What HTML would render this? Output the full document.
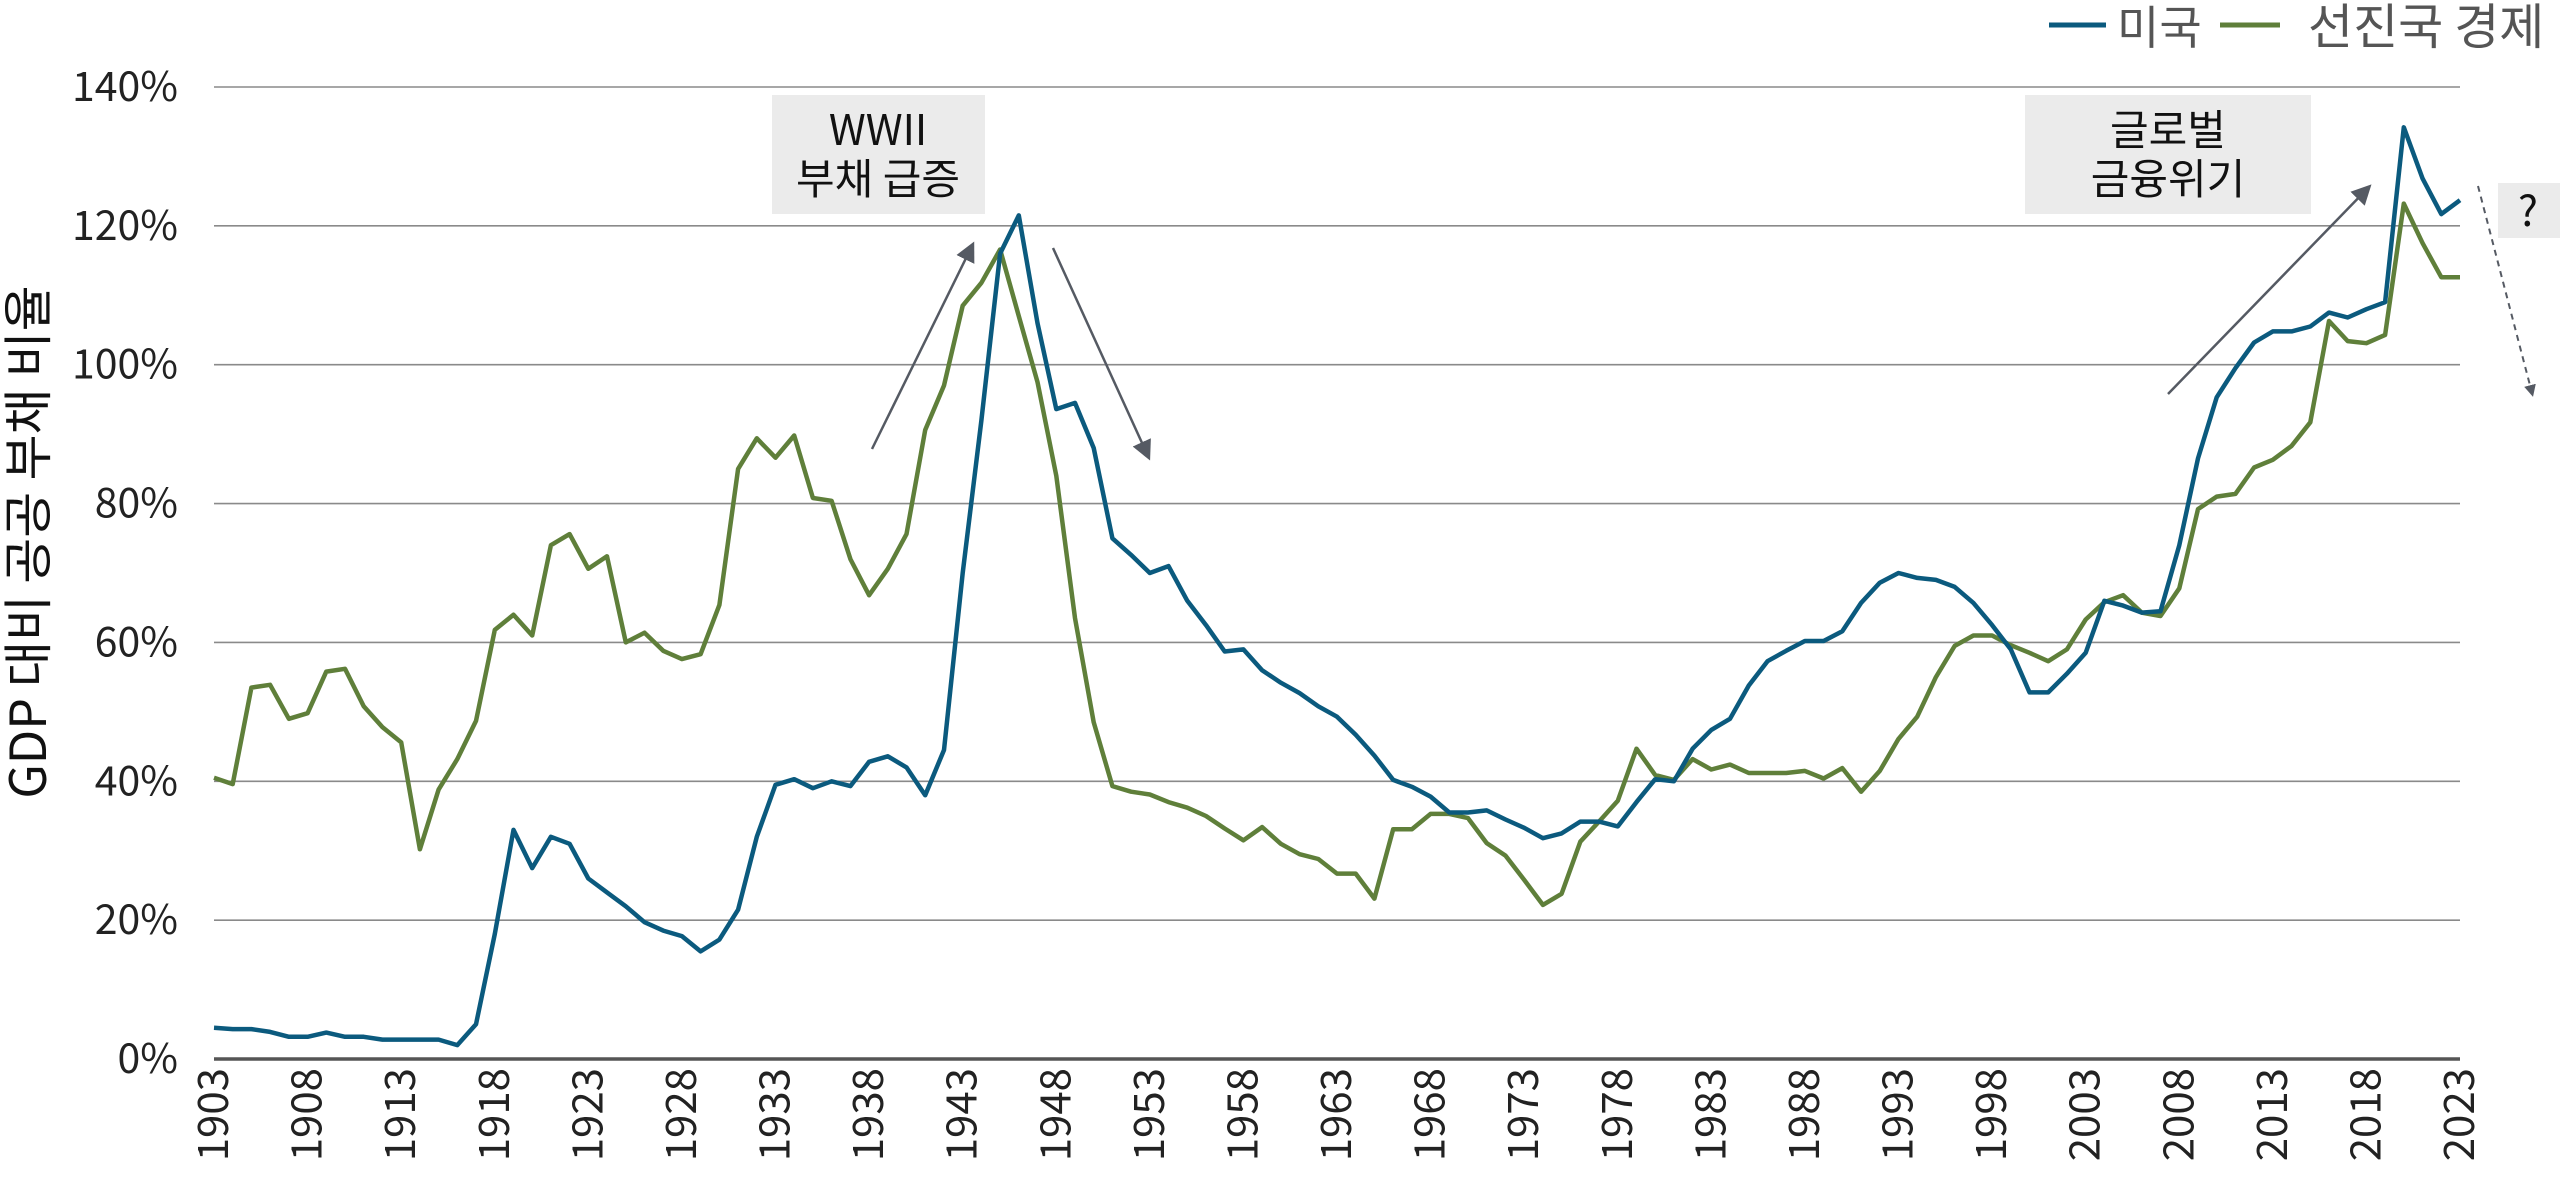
<!DOCTYPE html>
<html><head><meta charset="utf-8">
<style>
html,body{margin:0;padding:0;background:#fff;}
body{width:2560px;height:1186px;overflow:hidden;font-family:"Noto Sans CJK KR","Liberation Sans",sans-serif;}
svg text{font-family:"Noto Sans CJK KR","Liberation Sans",sans-serif;}
</style></head>
<body>
<svg id="chart" width="2560" height="1186" viewBox="0 0 2560 1186" xmlns="http://www.w3.org/2000/svg">
<defs>
<marker id="ah" markerWidth="8" markerHeight="8" refX="6" refY="4" orient="auto" markerUnits="strokeWidth"><path d="M0,0 L8,4 L0,8 z" fill="#555a63"/></marker>
<marker id="ah2" markerWidth="6" markerHeight="6" refX="4" refY="3" orient="auto" markerUnits="strokeWidth"><path d="M0,0 L6,3 L0,6 z" fill="#555a63"/></marker>
</defs>
<g id="grid"></g>
<g id="yticks"></g>
<g id="xticks"></g>
<g id="series"></g>
<text transform="translate(46,542) rotate(-90)" text-anchor="middle" font-size="50" fill="#111">GDP 대비 공공 부채 비율</text>

<g>
<line x1="2049" y1="25" x2="2106" y2="25" stroke="#0b5a7e" stroke-width="5"/>
<text x="2117" y="44" font-size="46" fill="#555">미국</text>
<line x1="2220" y1="25" x2="2280" y2="25" stroke="#5f7f3a" stroke-width="5"/>
<text x="2308" y="44" font-size="49" fill="#555">선진국 경제</text>
</g>

<g>
<rect x="772" y="95" width="213" height="119" fill="#ebebeb"/>
<text x="878" y="145" text-anchor="middle" font-size="42" fill="#111">WWII</text>
<text x="878" y="194" text-anchor="middle" font-size="42" fill="#111">부채 급증</text>
<line x1="872" y1="449" x2="972" y2="246" stroke="#555a63" stroke-width="2.5" marker-end="url(#ah)"/>
<line x1="1053" y1="248" x2="1148" y2="456" stroke="#555a63" stroke-width="2.5" marker-end="url(#ah)"/>
</g>
<g>
<rect x="2025" y="95" width="286" height="119" fill="#ebebeb"/>
<text x="2168" y="145" text-anchor="middle" font-size="42" fill="#111">글로벌</text>
<text x="2168" y="194" text-anchor="middle" font-size="42" fill="#111">금융위기</text>
<line x1="2168" y1="394" x2="2368" y2="188" stroke="#555a63" stroke-width="2.5" marker-end="url(#ah)"/>
</g>
<g>
<rect x="2498" y="183" width="62" height="55" fill="#ebebeb"/>
<text x="2528" y="226" text-anchor="middle" font-size="42" fill="#111">?</text>
<line x1="2478" y1="186" x2="2532" y2="393" stroke="#555a63" stroke-width="2" stroke-dasharray="6,5" marker-end="url(#ah2)"/>
</g>
</svg>
<script>
const years = [];
for (let yr = 1903; yr <= 2023; yr++) years.push(yr);
const yTicks = [0,20,40,60,80,100,120,140];
const xTickYears = [1903,1908,1913,1918,1923,1928,1933,1938,1943,1948,1953,1958,1963,1968,1973,1978,1983,1988,1993,1998,2003,2008,2013,2018,2023];
const usDebt = [4.5,4.3,4.3,3.9,3.2,3.2,3.8,3.2,3.2,2.8,2.8,2.8,2.8,2.0,5,18,33,27.5,32,31,26,24,22,19.7,18.5,17.7,15.5,17.2,21.5,32,39.5,40.3,39,40,39.3,42.8,43.6,42,38,44.5,70,92,116,121.5,106,93.6,94.5,88,75,72.6,70,71,66,62.5,58.7,59,56,54.2,52.7,50.8,49.3,46.7,43.7,40.2,39.2,37.8,35.5,35.5,35.8,34.5,33.3,31.8,32.5,34.2,34.2,33.5,37,40.3,40,44.7,47.4,49,53.8,57.3,58.8,60.2,60.2,61.6,65.7,68.6,70,69.3,69,68,65.7,62.5,59,52.8,52.8,55.5,58.5,66,65.3,64.3,64.5,74,86.5,95.3,99.5,103.2,104.8,104.8,105.5,107.5,106.8,108,109,134.2,126.8,121.7,123.7];
const advDebt = [40.5,39.6,53.5,53.9,49,49.8,55.8,56.2,50.8,47.8,45.6,30.2,38.8,43.2,48.7,61.8,64,61,74,75.6,70.6,72.4,60,61.4,58.8,57.6,58.3,65.4,85,89.4,86.6,89.8,80.8,80.4,72,66.8,70.6,75.6,90.6,97,108.5,111.8,116.6,107,97.5,84,63.5,48.5,39.3,38.5,38.1,37,36.2,35,33.2,31.5,33.4,31,29.5,28.8,26.7,26.7,23.1,33.1,33.1,35.3,35.3,34.7,31.1,29.3,25.8,22.2,23.8,31.3,34.2,37.2,44.7,40.9,40.2,43.2,41.7,42.4,41.2,41.2,41.2,41.5,40.4,41.9,38.5,41.5,46.1,49.3,55,59.5,61,61,59.6,58.5,57.3,59,63.3,65.8,66.8,64.3,63.8,67.8,79.2,81,81.4,85.2,86.3,88.3,91.7,106.3,103.4,103.1,104.3,123.2,117.5,112.6,112.6];

const NS = "http://www.w3.org/2000/svg";
const X0 = 214, X1 = 2460, Y0 = 1059, YTOP = 87;
function xs(yr){ return X0 + (yr - 1903) * (X1 - X0) / 120; }
function ys(v){ return Y0 - v * (Y0 - YTOP) / 140; }

const grid = document.getElementById('grid');
const yt = document.getElementById('yticks');
yTicks.forEach(t => {
  const l = document.createElementNS(NS,'line');
  l.setAttribute('x1', X0); l.setAttribute('x2', X1);
  l.setAttribute('y1', ys(t)); l.setAttribute('y2', ys(t));
  l.setAttribute('stroke', t === 0 ? '#555' : '#8a8a8a');
  l.setAttribute('stroke-width', t === 0 ? 3.5 : 1.6);
  
  
  grid.appendChild(l);
  const tx = document.createElementNS(NS,'text');
  tx.setAttribute('x', 178); tx.setAttribute('y', ys(t) + 14);
  tx.setAttribute('text-anchor', 'end'); tx.setAttribute('font-size', '41');
  tx.setAttribute('fill', '#222');
  tx.textContent = t + '%';
  
  
  yt.appendChild(tx);
});
const xt = document.getElementById('xticks');
xTickYears.forEach(yr => {
  const tx = document.createElementNS(NS,'text');
  const x = xs(yr) + 14, y = 1068;
  tx.setAttribute('transform', 'translate(' + x + ',' + y + ') rotate(-90)');
  tx.setAttribute('text-anchor', 'end'); tx.setAttribute('font-size', '42');
  tx.setAttribute('fill', '#222');
  tx.textContent = yr;
  
  
  xt.appendChild(tx);
});
const ser = document.getElementById('series');
function drawLine(vals, color, name){
  const pts = vals.map((v,i) => xs(years[i]).toFixed(1) + ',' + ys(v).toFixed(1)).join(' ');
  const p = document.createElementNS(NS,'polyline');
  p.setAttribute('points', pts);
  p.setAttribute('fill', 'none'); p.setAttribute('stroke', color);
  p.setAttribute('stroke-width', 4.5); p.setAttribute('stroke-linejoin', 'round');
  
  
  ser.appendChild(p);
}
drawLine(advDebt, '#5f7f3a', 'advanced-economies-line');
drawLine(usDebt, '#0b5a7e', 'us-line');
</script>
</body></html>
